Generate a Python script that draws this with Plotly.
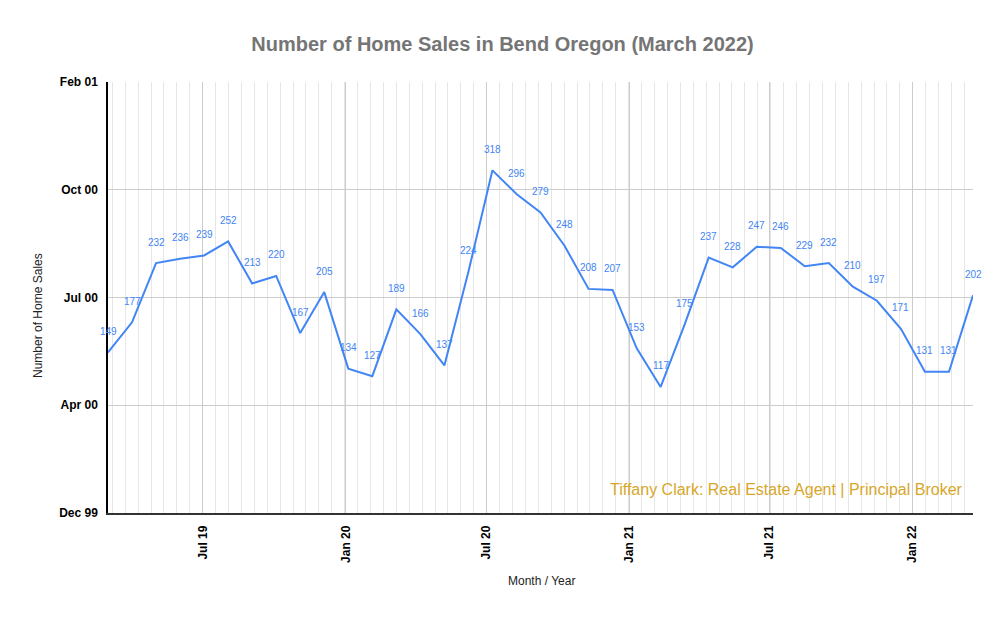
import plotly.graph_objects as go

# Data
months = ["Mar 19", "Apr 19", "May 19", "Jun 19", "Jul 19", "Aug 19", "Sep 19", "Oct 19",
          "Nov 19", "Dec 19", "Jan 20", "Feb 20", "Mar 20", "Apr 20", "May 20", "Jun 20",
          "Jul 20", "Aug 20", "Sep 20", "Oct 20", "Nov 20", "Dec 20", "Jan 21", "Feb 21",
          "Mar 21", "Apr 21", "May 21", "Jun 21", "Jul 21", "Aug 21", "Sep 21", "Oct 21",
          "Nov 21", "Dec 21", "Jan 22", "Feb 22", "Mar 22"]
sales = [149, 177, 232, 236, 239, 252, 213, 220, 167, 205, 134, 127, 189, 166, 137, 224,
         318, 296, 279, 248, 208, 207, 153, 117, 175, 237, 228, 247, 246, 229, 232, 210,
         197, 171, 131, 131, 202]
x_tick_labels = ["Jul 19", "Jan 20", "Jul 20", "Jan 21", "Jul 21", "Jan 22"]
x_tick_pos = [3.94, 9.89, 15.74, 21.69, 27.52, 33.48]
y_tick_vals = [0, 100, 200, 300, 400]
y_tick_labels = ["Dec 99", "Apr 00", "Jul 00", "Oct 00", "Feb 01"]

x = list(range(len(sales)))
FONT = "Arial, 'Liberation Sans', sans-serif"
BLUE = "#4285f4"

fig = go.Figure()
fig.add_trace(go.Scatter(
    x=x, y=sales, mode="lines",
    line=dict(color=BLUE, width=2),
    customdata=months,
    hovertemplate="%{customdata}: %{y}<extra></extra>",
    showlegend=False,
))

annotations = []
for xi, v in zip(x, sales):
    annotations.append(dict(
        x=xi, y=v, xref="x", yref="y", text=str(v), showarrow=False,
        yshift=21, font=dict(family=FONT, size=10, color=BLUE),
    ))

annotations.append(dict(
    x=965, y=489, text="Tiffany Clark: Real Estate Agent | Principal Broker",
    showarrow=False, xanchor="right", yanchor="middle",
    font=dict(family=FONT, size=16, color="#d8a62a"),
))
annotations.append(dict(
    x=38, y=316, text="Number of Home Sales", showarrow=False, textangle=-90,
    xanchor="center", yanchor="middle",
    font=dict(family=FONT, size=12, color="#222222"),
))
annotations.append(dict(
    x=541, y=581, text="Month / Year", showarrow=False,
    xanchor="center", yanchor="middle",
    font=dict(family=FONT, size=12, color="#222222"),
))

# convert pixel annotations (the last three) into paper coords
L, R, T, B = 108, 32, 82, 107
W, H = 1005, 620
pw, ph = W - L - R, H - T - B
for a in annotations[-3:]:
    a["xref"] = "paper"
    a["yref"] = "paper"
    a["x"] = (a["x"] - L) / pw
    a["y"] = (H - B - a["y"]) / ph

fig.update_layout(
    width=W, height=H,
    margin=dict(l=L, r=R, t=T, b=B),
    paper_bgcolor="white", plot_bgcolor="white",
    title=dict(text="<b>Number of Home Sales in Bend Oregon (March 2022)</b>",
               x=0.5, xanchor="center", y=1 - 44 / H, yanchor="middle",
               font=dict(family=FONT, size=20, color="#757575")),
    annotations=annotations,
    xaxis=dict(
        range=[0, 36], tickmode="array", tickvals=x_tick_pos, ticktext=x_tick_labels,
        tickangle=-90, tickfont=dict(family=FONT, size=12, color="#000000", weight="bold"),
        showgrid=True, gridcolor="#cccccc", gridwidth=1,
        minor=dict(tickmode="linear", tick0=3.94, dtick=0.5373, showgrid=True,
                   gridcolor="#e6e6e6", gridwidth=1),
        showline=True, linecolor="#333333", linewidth=1.5,
        zeroline=False, ticks="", ticklabelstandoff=6,
        fixedrange=True,
    ),
    yaxis=dict(
        range=[0, 400], tickmode="array", tickvals=y_tick_vals, ticktext=y_tick_labels,
        tickfont=dict(family=FONT, size=12, color="#000000", weight="bold"),
        showgrid=True, gridcolor="#cccccc", gridwidth=1,
        showline=True, linecolor="#000000", linewidth=1.5,
        zeroline=False, ticks="", ticklabelstandoff=6,
        fixedrange=True,
    ),
    showlegend=False,
)

fig.write_html("out.html")
